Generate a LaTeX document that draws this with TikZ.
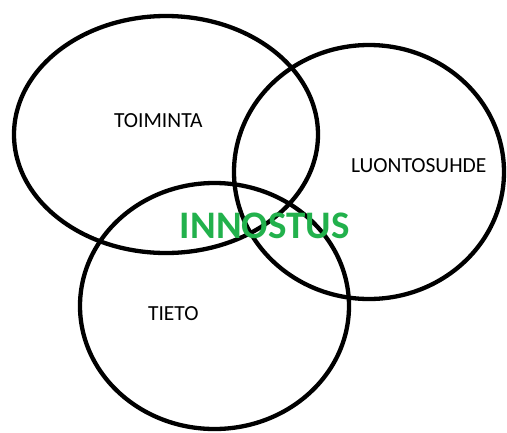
\documentclass[tikz,border=0pt]{standalone}
\usepackage{fontspec}
\setmainfont{Carlito}
\definecolor{paintgreen}{RGB}{34,177,76}
\begin{document}
\begin{tikzpicture}[x=1pt,y=-1pt,
  ring/.style={draw=black,line width=4.3pt},
  lbl/.style={font=\fontsize{21.5}{24}\selectfont,text=black,inner sep=0pt},
  big/.style={font=\fontsize{39}{44}\selectfont\bfseries,text=paintgreen,inner sep=0pt}]
\useasboundingbox (0,0) rectangle (507,432);
\draw[ring] (166,134.5) ellipse [x radius=152, y radius=118.5];
\draw[ring] (369,172) ellipse [x radius=135, y radius=127];
\draw[ring] (214.5,306) ellipse [x radius=134.5, y radius=123];
\node[lbl] (toiminta) at (158.3,120.7) {TOIMINTA};
\node[lbl] (luonto) at (418.7,165.7) {LUONTOSUHDE};
\node[lbl] (tieto) at (173.3,313.3) {TIETO};
\node[big] (innostus) at (264.7,225.7) {INNOSTUS};
\end{tikzpicture}
\end{document}
